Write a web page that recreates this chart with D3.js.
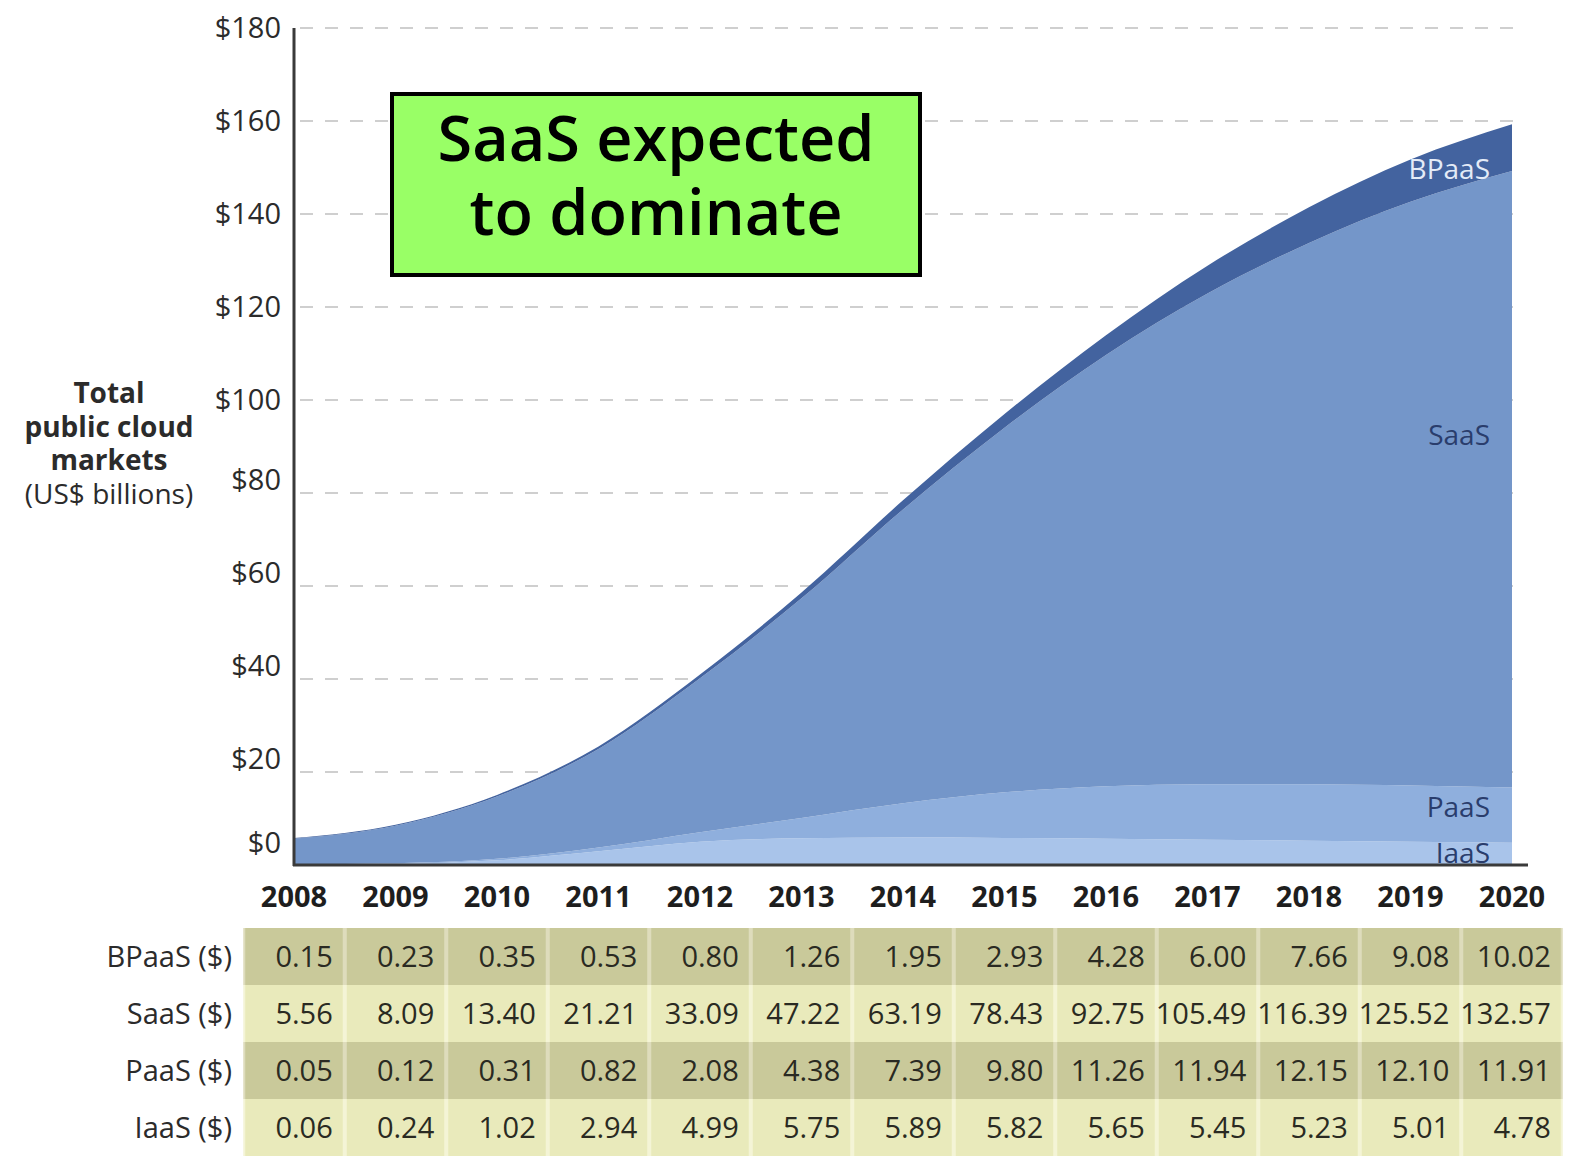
<!DOCTYPE html>
<meta charset="utf-8">
<script src="https://d3js.org/d3.v7.min.js"></script>
<style>
  body { margin: 0; background: #fff; }
  text { font-family: "Open Sans", sans-serif; }
</style>
<div id="chart"></div>
<script>
  // data
  var years = [2008, 2009, 2010, 2011, 2012, 2013, 2014, 2015, 2016, 2017, 2018, 2019, 2020];
  var bpaas = [0.15, 0.23, 0.35, 0.53, 0.80, 1.26, 1.95, 2.93, 4.28, 6.00, 7.66, 9.08, 10.02];
  var saas  = [5.56, 8.09, 13.40, 21.21, 33.09, 47.22, 63.19, 78.43, 92.75, 105.49, 116.39, 125.52, 132.57];
  var paas  = [0.05, 0.12, 0.31, 0.82, 2.08, 4.38, 7.39, 9.80, 11.26, 11.94, 12.15, 12.10, 11.91];
  var iaas  = [0.06, 0.24, 1.02, 2.94, 4.99, 5.75, 5.89, 5.82, 5.65, 5.45, 5.23, 5.01, 4.78];
  var yTicks = [0, 20, 40, 60, 80, 100, 120, 140, 160, 180];

  var keys = ["IaaS", "PaaS", "SaaS", "BPaaS"];  // bottom to top
  var tableRows = [
    {name: "BPaaS ($)", values: bpaas},
    {name: "SaaS ($)", values: saas},
    {name: "PaaS ($)", values: paas},
    {name: "IaaS ($)", values: iaas}
  ];

  var W = 1575, H = 1161;
  var svg = d3.select("#chart").append("svg")
    .attr("width", W)
    .attr("height", H);

  var x = d3.scaleLinear().domain([2008, 2020]).range([294, 1512]);
  var y = d3.scaleLinear().domain([0, 180]).range([865, 28]);
  var step = x(2009) - x(2008);

  // gridlines
  svg.append("g").selectAll("line")
    .data(yTicks.filter(function(d) { return d > 0; }))
    .enter().append("line")
      .attr("x1", x(2008) + 6)
      .attr("x2", x(2020) + 4)
      .attr("y1", function(d) { return y(d); })
      .attr("y2", function(d) { return y(d); })
      .attr("stroke", "#cfcfcf")
      .attr("stroke-width", 2)
      .attr("stroke-dasharray", "13,12");

  // stacked areas
  var table = years.map(function(yr, i) {
    return {year: yr, IaaS: iaas[i], PaaS: paas[i], SaaS: saas[i], BPaaS: bpaas[i]};
  });
  var series = d3.stack().keys(keys)(table);
  var color = d3.scaleOrdinal()
    .domain(keys)
    .range(["#a9c4ea", "#8fafdd", "#7496c9", "#43639f"]);

  var area = d3.area()
    .curve(d3.curveMonotoneX)
    .x(function(d) { return x(d.data.year); })
    .y0(function(d) { return y(d[0]); })
    .y1(function(d) { return y(d[1]); });

  svg.append("g").selectAll("path")
    .data(series)
    .enter().append("path")
      .attr("d", area)
      .attr("fill", function(d) { return color(d.key); });

  // series labels at the right end
  var labelStyle = {
    BPaaS: {fill: "#e4ebf7", dy: 21},
    SaaS:  {fill: "#2a3d6c", dy: -44},
    PaaS:  {fill: "#2a3d6c", dy: -8},
    IaaS:  {fill: "#2a3d6c", dy: -1}
  };
  svg.append("g").selectAll("text")
    .data(series)
    .enter().append("text")
      .attr("x", x(2020) - 22)
      .attr("y", function(d) { var last = d[d.length - 1]; return y((last[0] + last[1]) / 2); })
      .attr("dy", function(d) { return labelStyle[d.key].dy + 10; })
      .attr("text-anchor", "end")
      .attr("font-size", 28)
      .attr("fill", function(d) { return labelStyle[d.key].fill; })
      .text(function(d) { return d.key; });

  // axis lines
  svg.append("line")
    .attr("x1", x(2008)).attr("x2", x(2008))
    .attr("y1", y(180)).attr("y2", y(0) + 1)
    .attr("stroke", "#3a3a3a").attr("stroke-width", 3);
  svg.append("line")
    .attr("x1", x(2008) - 1).attr("x2", x(2020) + 16)
    .attr("y1", y(0)).attr("y2", y(0))
    .attr("stroke", "#3a3a3a").attr("stroke-width", 3);

  // y axis tick labels
  var yAxis = svg.append("g")
    .attr("transform", "translate(" + (x(2008) - 10) + ",0)")
    .call(d3.axisLeft(y).tickValues(yTicks).tickSize(0).tickFormat(function(d) { return "$" + d; }));
  yAxis.select(".domain").remove();
  yAxis.selectAll("text")
    .attr("font-family", "Open Sans, sans-serif")
    .attr("font-size", 29)
    .attr("fill", "#2b2b2b")
    .attr("dy", function(d) { return d === 0 ? "-0.42em" : (d <= 80 ? "-0.12em" : "0.32em"); });

  // y axis title
  var title = svg.append("text")
    .attr("x", 109)
    .attr("text-anchor", "middle")
    .attr("font-size", 28)
    .attr("fill", "#2b2b2b");
  title.append("tspan").attr("x", 109).attr("y", 403).attr("font-weight", "bold").text("Total");
  title.append("tspan").attr("x", 109).attr("y", 437).attr("font-weight", "bold").text("public cloud");
  title.append("tspan").attr("x", 109).attr("y", 470).attr("font-weight", "bold").text("markets");
  title.append("tspan").attr("x", 109).attr("y", 504).text("(US$ billions)");

  // callout box
  svg.append("rect")
    .attr("x", 392).attr("y", 94)
    .attr("width", 528).attr("height", 181)
    .attr("fill", "#99ff66")
    .attr("stroke", "#000")
    .attr("stroke-width", 4);
  svg.append("text")
    .attr("x", 656).attr("y", 161)
    .attr("text-anchor", "middle")
    .attr("font-size", 63)
    .attr("font-weight", 600)
    .attr("fill", "#000")
    .text("SaaS expected");
  svg.append("text")
    .attr("x", 656).attr("y", 235)
    .attr("text-anchor", "middle")
    .attr("font-size", 63)
    .attr("font-weight", 600)
    .attr("fill", "#000")
    .text("to dominate");

  // year header
  svg.append("g").selectAll("text")
    .data(years)
    .enter().append("text")
      .attr("x", function(d) { return x(d); })
      .attr("y", 907)
      .attr("text-anchor", "middle")
      .attr("font-size", 29)
      .attr("font-weight", "bold")
      .attr("fill", "#1e1e1e")
      .text(function(d) { return d; });

  // data table
  var rowTop = 928, rowH = 57;
  var rowFill = ["#c9c99a", "#e9eabb"];
  var sepFill = ["#dedcbc", "#f4f4d6"];

  var rows = svg.append("g").selectAll("g")
    .data(tableRows)
    .enter().append("g")
      .attr("transform", function(d, i) { return "translate(0," + (rowTop + i * rowH) + ")"; });

  rows.append("rect")
    .attr("x", x(2008) - step / 2)
    .attr("width", step * years.length)
    .attr("height", rowH)
    .attr("fill", function(d, i) { return sepFill[i % 2]; });

  rows.each(function(row, ri) {
    var g = d3.select(this);
    g.selectAll("rect.cell")
      .data(row.values)
      .enter().append("rect")
        .attr("class", "cell")
        .attr("x", function(v, i) { return x(years[i]) - step / 2 + 2; })
        .attr("width", step - 4)
        .attr("height", rowH)
        .attr("fill", rowFill[ri % 2]);
    g.selectAll("text.val")
      .data(row.values)
      .enter().append("text")
        .attr("class", "val")
        .attr("x", function(v, i) { return x(years[i]) + step / 2 - 12; })
        .attr("y", rowH / 2 + 10)
        .attr("text-anchor", "end")
        .attr("font-size", 29)
        .attr("fill", "#2a2a22")
        .text(function(v) { return v.toFixed(2); });
    g.append("text")
      .attr("x", 232)
      .attr("y", rowH / 2 + 10)
      .attr("text-anchor", "end")
      .attr("font-size", 29)
      .attr("fill", "#2b2b2b")
      .text(row.name);
  });
</script>
